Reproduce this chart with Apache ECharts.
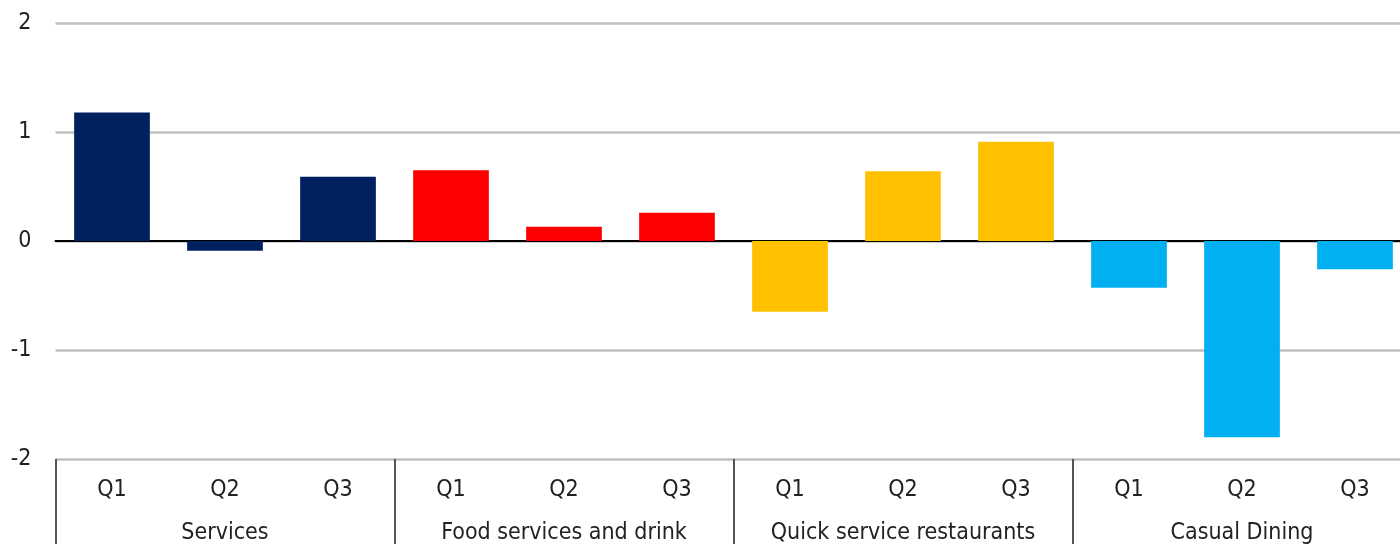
<!DOCTYPE html>
<html>
<head>
<meta charset="utf-8">
<script src="https://cdn.jsdelivr.net/npm/echarts@6/dist/echarts.min.js"></script>
<style>
html,body{margin:0;padding:0;background:#fff;}
#chart{width:1400px;height:544px;}
</style>
</head>
<body>
<div id="chart"></div>
<script>
const groups = ['Services', 'Food services and drink', 'Quick service restaurants', 'Casual Dining'];
const quarters = ['Q1', 'Q2', 'Q3'];
const groupColors = ['#002060', '#FF0000', '#FFC000', '#00B0F0'];
const services = [1.18, -0.09, 0.59];
const foodServices = [0.65, 0.13, 0.26];
const quickService = [-0.65, 0.64, 0.91];
const casualDining = [-0.43, -1.80, -0.26];
const yTicks = [-2, -1, 0, 1, 2];

const groupValues = [services, foodServices, quickService, casualDining];
const categories = [];
const barData = [];
groupValues.forEach((vals, gi) => {
  vals.forEach((v, qi) => {
    categories.push(quarters[qi]);
    barData.push({ value: v, itemStyle: { color: groupColors[gi] } });
  });
});

const FONT = "'Liberation Sans Narrow', 'DejaVu Sans Condensed', 'Liberation Sans', sans-serif";
const chart = echarts.init(document.getElementById('chart'), null, { renderer: 'canvas' });
chart.setOption({
  animation: false,
  backgroundColor: '#ffffff',
  grid: { left: 55.5, width: 1356, top: 23, bottom: 85, containLabel: false, outerBoundsMode: 'none' },
  xAxis: [
    {
      type: 'category',
      data: categories,
      position: 'bottom',
      axisLine: { show: false, onZero: false },
      axisTick: { show: false },
      axisLabel: { fontFamily: FONT, fontSize: 23, color: '#222', margin: 20, interval: 0 },
      splitLine: { show: false }
    },
    {
      type: 'category',
      data: groups,
      position: 'bottom',
      axisLine: { show: false, onZero: false },
      axisTick: { show: true, interval: 0, length: 90, inside: false, lineStyle: { color: '#555', width: 2 } },
      axisLabel: { fontFamily: FONT, fontSize: 23, color: '#222', margin: 63, interval: 0 },
      splitLine: { show: false }
    },
    {
      type: 'category',
      data: categories,
      position: 'bottom',
      axisLine: { show: true, onZero: true, lineStyle: { color: '#000', width: 2 } },
      axisTick: { show: false },
      axisLabel: { show: false }
    }
  ],
  yAxis: {
    type: 'value',
    min: yTicks[0],
    max: yTicks[yTicks.length - 1],
    interval: 1,
    axisLine: { show: false },
    axisTick: { show: false },
    axisLabel: { fontFamily: FONT, fontSize: 23, color: '#222', margin: 24, align: 'right' },
    splitLine: { show: true, lineStyle: { color: '#c0c0c0', width: 2.5 } }
  },
  series: [{
    type: 'bar',
    xAxisIndex: 0,
    data: barData,
    barCategoryGap: '33%'
  }]
});
</script>
</body>
</html>
